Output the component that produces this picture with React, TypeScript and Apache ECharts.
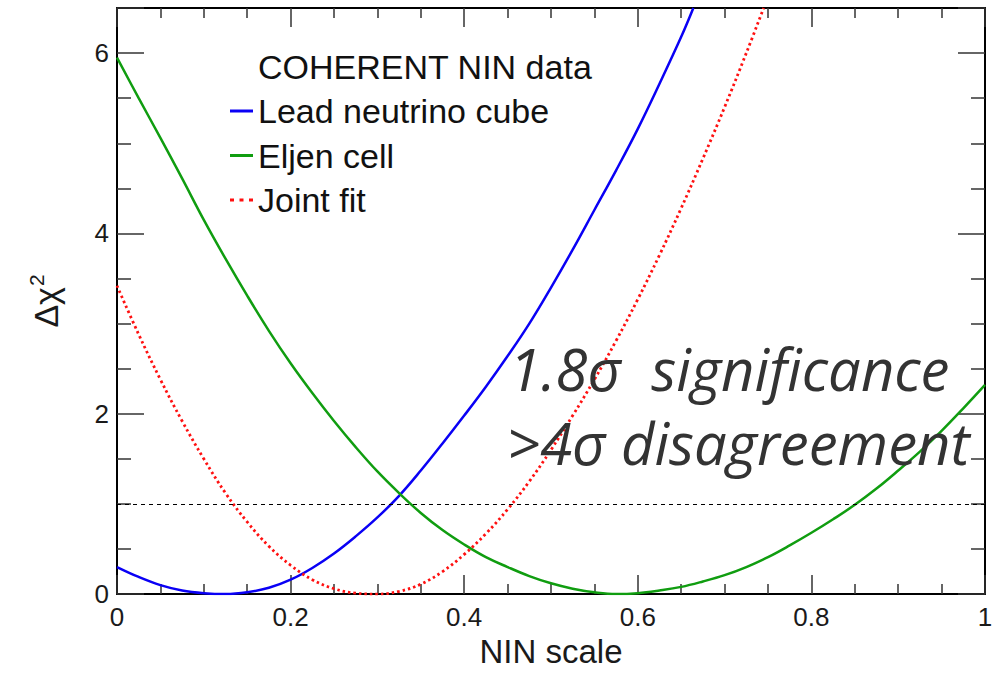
import React, { useEffect, useRef } from 'react';
import * as echarts from 'echarts';

const FONT = '"Liberation Sans", Arial, Helvetica, sans-serif';

const legendTitle = 'COHERENT NIN data';
const seriesNames = ['Lead neutrino cube', 'Eljen cell', 'Joint fit'];
const xAxisName = 'NIN scale';
const annotations = ['1.8σ  significance', '>4σ disagreement'];
const refLevel = 1;

const leadX = [0, 0.025, 0.05, 0.075, 0.1, 0.125, 0.15, 0.175, 0.2, 0.225, 0.25, 0.275, 0.3, 0.325, 0.35, 0.375, 0.4, 0.425, 0.45, 0.475, 0.5, 0.525, 0.55, 0.575, 0.6, 0.625, 0.65, 0.664];
const leadY = [0.30, 0.19, 0.10, 0.04, 0.01, 0.0, 0.02, 0.07, 0.16, 0.29, 0.45, 0.64, 0.85, 1.09, 1.37, 1.67, 1.98, 2.30, 2.64, 3.0, 3.4, 3.82, 4.26, 4.70, 5.16, 5.66, 6.18, 6.5];

const eljenX = [0, 0.025, 0.05, 0.075, 0.1, 0.125, 0.15, 0.175, 0.2, 0.225, 0.25, 0.275, 0.3, 0.325, 0.35, 0.375, 0.4, 0.425, 0.45, 0.475, 0.5, 0.525, 0.55, 0.575, 0.6, 0.625, 0.65, 0.675, 0.7, 0.725, 0.75, 0.775, 0.8, 0.825, 0.85, 0.875, 0.9, 0.925, 0.95, 0.975, 1.0];
const eljenY = [5.95, 5.50, 5.06, 4.61, 4.15, 3.72, 3.31, 2.92, 2.56, 2.23, 1.92, 1.63, 1.36, 1.12, 0.90, 0.71, 0.55, 0.41, 0.30, 0.20, 0.12, 0.06, 0.02, 0.0, 0.01, 0.04, 0.08, 0.14, 0.21, 0.30, 0.41, 0.54, 0.68, 0.83, 0.99, 1.17, 1.37, 1.58, 1.81, 2.06, 2.32];

const jointX = [0, 0.025, 0.05, 0.075, 0.1, 0.125, 0.15, 0.175, 0.2, 0.225, 0.25, 0.275, 0.3, 0.325, 0.35, 0.375, 0.4, 0.425, 0.45, 0.475, 0.5, 0.525, 0.55, 0.575, 0.6, 0.625, 0.65, 0.675, 0.7, 0.725, 0.745];
const jointY = [3.42, 2.88, 2.38, 1.92, 1.50, 1.12, 0.80, 0.53, 0.32, 0.16, 0.06, 0.01, 0.0, 0.03, 0.11, 0.25, 0.44, 0.67, 0.94, 1.25, 1.60, 1.98, 2.38, 2.81, 3.27, 3.76, 4.28, 4.83, 5.40, 6.0, 6.5];

const pairs = (xs: number[], ys: number[]) => xs.map((x, i) => [x, ys[i]]);

const frameLine = { show: true, onZero: false, lineStyle: { color: '#000', width: 2 } };

function makeX(position: 'top' | 'bottom', labels: boolean) {
  return {
    type: 'value',
    min: 0,
    max: 1,
    interval: 0.2,
    position,
    axisLine: frameLine,
    axisTick: { show: true, inside: true, length: 19, lineStyle: { color: '#333', width: 1.5 } },
    minorTick: { show: true, splitNumber: 4, length: 10, lineStyle: { color: '#333', width: 1.5 } },
    splitLine: { show: false },
    axisLabel: labels
      ? { show: true, margin: 10, fontSize: 26, color: '#1a1a1a', fontFamily: FONT }
      : { show: false },
    ...(labels
      ? {
          name: xAxisName,
          nameLocation: 'middle',
          nameGap: 38,
          nameTextStyle: { fontSize: 33, color: '#1a1a1a', fontFamily: FONT },
        }
      : {}),
  };
}

function makeY(position: 'left' | 'right', labels: boolean) {
  return {
    type: 'value',
    min: 0,
    max: 6.5,
    interval: 2,
    position,
    axisLine: frameLine,
    axisTick: { show: true, inside: true, length: 27, lineStyle: { color: '#333', width: 1.5 } },
    minorTick: { show: true, splitNumber: 4, length: 14, lineStyle: { color: '#333', width: 1.5 } },
    splitLine: { show: false },
    axisLabel: labels
      ? {
          show: true,
          margin: 8,
          fontSize: 26,
          color: '#1a1a1a',
          fontFamily: FONT,
          formatter: (v: number) => (v % 2 === 0 ? String(v) : ''),
        }
      : { show: false },
  };
}

const dottedIcon = 'path://M0,0h4v3h-4z M9.5,0h4v3h-4z M19,0h4v3h-4z';

export default function App() {
  const ref = useRef<HTMLDivElement>(null);
  useEffect(() => {
    if (!ref.current) return;
    const chart = echarts.init(ref.current, undefined, { renderer: 'svg' });
    chart.setOption({
      animation: false,
      backgroundColor: '#fff',
      title: {
        text: legendTitle,
        left: 258,
        top: 50,
        padding: 0,
        textStyle: { fontFamily: FONT, fontSize: 34, fontWeight: 'normal', color: '#111' },
      },
      legend: {
        orient: 'vertical',
        left: 230,
        top: 94,
        padding: 0,
        itemWidth: 23,
        itemHeight: 3,
        itemGap: 10.5,
        textStyle: { fontFamily: FONT, fontSize: 34, color: '#111', lineHeight: 33 },
        data: [
          { name: seriesNames[0], icon: 'rect' },
          { name: seriesNames[1], icon: 'rect' },
          { name: seriesNames[2], icon: dottedIcon },
        ],
      },
      grid: { left: 117, right: 20, top: 8, bottom: 71, containLabel: false },
      xAxis: [makeX('bottom', true), makeX('top', false)],
      yAxis: [makeY('left', true), makeY('right', false)],
      graphic: [
        {
          type: 'text',
          x: 44,
          y: 301,
          rotation: Math.PI / 2,
          style: {
            text: '{a|Δχ}{b|2}',
            align: 'center',
            verticalAlign: 'middle',
            fill: '#1a1a1a',
            rich: {
              a: { fontFamily: FONT, fontSize: 34, fill: '#1a1a1a', verticalAlign: 'bottom' },
              b: { fontFamily: FONT, fontSize: 21, fill: '#1a1a1a', verticalAlign: 'top', padding: [0, 0, 16, 1] },
            },
          },
        },
        {
          type: 'text',
          x: 509,
          y: 368,
          z: 100,
          style: {
            text: annotations[0],
            align: 'left',
            verticalAlign: 'middle',
            fontFamily: '"Open Sans", sans-serif',
            fontStyle: 'italic',
            fontSize: 58,
            fill: '#333',
          },
        },
        {
          type: 'text',
          x: 507,
          y: 442,
          z: 100,
          style: {
            text: annotations[1],
            align: 'left',
            verticalAlign: 'middle',
            fontFamily: '"Open Sans", sans-serif',
            fontStyle: 'italic',
            fontSize: 58,
            fill: '#333',
          },
        },
      ],
      series: [
        {
          name: seriesNames[0],
          type: 'line',
          data: pairs(leadX, leadY),
          symbol: 'none',
          smooth: 0.4,
          lineStyle: { color: '#0a00f5', width: 2.5 },
          itemStyle: { color: '#0a00f5' },
          markLine: {
            silent: true,
            symbol: ['none', 'none'],
            label: { show: false },
            lineStyle: { color: '#000', type: [4, 4], width: 1.2 },
            data: [{ yAxis: refLevel }],
          },
        },
        {
          name: seriesNames[1],
          type: 'line',
          data: pairs(eljenX, eljenY),
          symbol: 'none',
          smooth: 0.4,
          lineStyle: { color: '#109d10', width: 2.5 },
          itemStyle: { color: '#109d10' },
        },
        {
          name: seriesNames[2],
          type: 'line',
          data: pairs(jointX, jointY),
          symbol: 'none',
          smooth: 0.4,
          lineStyle: { color: '#ff1010', width: 2.8, type: [2.5, 3] },
          itemStyle: { color: '#ff1010' },
        },
      ],
    });
    return () => chart.dispose();
  }, []);
  return (
    <div
      ref={ref}
      style={{ position: 'fixed', left: 0, top: 0, width: 1005, height: 673, background: '#fff' }}
    />
  );
}
